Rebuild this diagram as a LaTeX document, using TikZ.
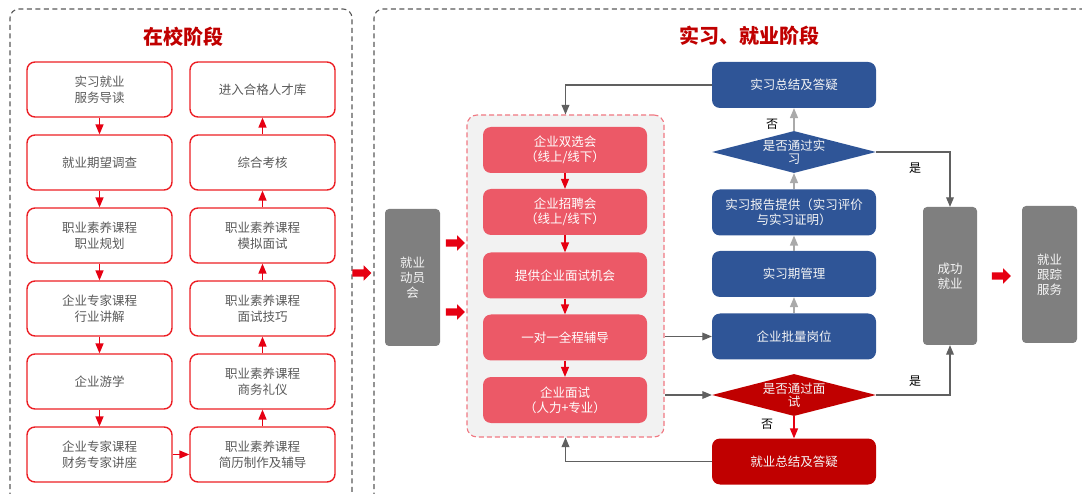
\documentclass[tikz,border=0pt]{standalone}
\usepackage{fontspec}
\newfontfamily\cjk{Noto Sans CJK SC}
\usepackage{tikz}
\usetikzlibrary{shapes,arrows}
\definecolor{boxred}{RGB}{236,30,36}
\definecolor{arrred}{RGB}{230,0,18}
\definecolor{titlered}{RGB}{192,0,0}
\definecolor{txtgray}{RGB}{89,89,89}
\definecolor{pinkbox}{RGB}{236,89,103}
\definecolor{dashpink}{RGB}{240,120,130}
\definecolor{poolgray}{RGB}{242,242,242}
\definecolor{bluebox}{RGB}{47,85,151}
\definecolor{darkred}{RGB}{192,0,0}
\definecolor{boxgray}{RGB}{127,127,127}
\definecolor{linegray}{RGB}{96,96,96}
\definecolor{lightgray}{RGB}{170,170,170}
\definecolor{panelgray}{RGB}{89,89,89}

\begin{document}
\begin{tikzpicture}[x=1pt,y=-1pt,
  every node/.style={font=\cjk\fontsize{12.5}{16}\selectfont, align=center},
  panel/.style={draw=panelgray, line width=1.1pt, dash pattern=on 5pt off 3.5pt, rounded corners=9pt},
  headline/.style={font=\cjk\bfseries\fontsize{20}{24}\selectfont, text=titlered},
  schoolbox/.style={draw=boxred, line width=1.4pt, rounded corners=8pt, minimum width=145pt, minimum height=55pt, text=txtgray},
  pinkstep/.style={fill=pinkbox, rounded corners=8pt, minimum width=164pt, minimum height=46pt, text=white, font=\cjk\fontsize{12.5}{15}\selectfont},
  bluestep/.style={fill=bluebox, rounded corners=8pt, minimum width=164pt, minimum height=46pt, text=white!92!gray, font=\cjk\fontsize{12.5}{15}\selectfont},
  redstep/.style={bluestep, fill=darkred},
  graybox/.style={fill=boxgray, rounded corners=4pt, minimum width=55pt, minimum height=137pt, text=white!93!gray, font=\cjk\fontsize{12.5}{15}\selectfont},
  decide/.style={diamond, fill=bluebox, minimum width=164pt, minimum height=42pt, inner sep=0pt},
  decidetext/.style={text=white!92!gray, font=\cjk\fontsize{12.5}{13}\selectfont},
  fatarrow/.style={single arrow, fill=arrred, inner sep=0pt, text height=7pt, text depth=0pt, text width=0pt, minimum height=19pt, single arrow head extend=4pt, single arrow head indent=0pt},
  redarr/.style={-triangle 45, draw=arrred, line width=1.3pt},
  grayarr/.style={-triangle 45, draw=linegray, line width=1.2pt},
  lightarr/.style={-triangle 45, draw=lightgray, line width=1.3pt},
  yesno/.style={font=\cjk\fontsize{12}{14}\selectfont, text=black}]
\useasboundingbox (0,0) rectangle (1082,494);
\draw[panel] (10,540) -- (10,9) -- (352,9) -- (352,540);
\draw[panel] (374,540) -- (374,9) -- (1100,9);
\node[headline] (t1) at (183,37) {在校阶段};
\node[headline] (t2) at (749,36) {实习、就业阶段};

\node[schoolbox] (guide) at (99.5,89.5) {实习就业\\服务导读};
\node[schoolbox] (survey) at (99.5,162.5) {就业期望调查};
\node[schoolbox] (plan) at (99.5,235.5) {职业素养课程\\职业规划};
\node[schoolbox] (industry) at (99.5,308.5) {企业专家课程\\行业讲解};
\node[schoolbox] (tour) at (99.5,381.5) {企业游学};
\node[schoolbox] (finance) at (99.5,454.5) {企业专家课程\\财务专家讲座};
\node[schoolbox] (resume) at (262.5,454.5) {职业素养课程\\简历制作及辅导};
\node[schoolbox] (etiquette) at (262.5,381.5) {职业素养课程\\商务礼仪};
\node[schoolbox] (skills) at (262.5,308.5) {职业素养课程\\面试技巧};
\node[schoolbox] (mock) at (262.5,235.5) {职业素养课程\\模拟面试};
\node[schoolbox] (exam) at (262.5,162.5) {综合考核};
\node[schoolbox] (talent) at (262.5,89.5) {进入合格人才库};
\draw[redarr] (guide) -- (survey);
\draw[redarr] (survey) -- (plan);
\draw[redarr] (plan) -- (industry);
\draw[redarr] (industry) -- (tour);
\draw[redarr] (tour) -- (finance);
\draw[redarr] (finance) -- (resume);
\draw[redarr] (resume) -- (etiquette);
\draw[redarr] (etiquette) -- (skills);
\draw[redarr] (skills) -- (mock);
\draw[redarr] (mock) -- (exam);
\draw[redarr] (exam) -- (talent);

\node[fatarrow] (go) at (360,273) {};
\node[graybox] (mobilize) at (412.5,277.5) {就业\\动员\\会};
\node[fatarrow] (in1) at (453.5,243) {};
\node[fatarrow] (in2) at (453.5,312) {};

\node[draw=dashpink, line width=1.1pt, dash pattern=on 5pt off 3pt, fill=poolgray, rounded corners=10pt, minimum width=197pt, minimum height=322pt] (hire) at (565.5,276) {};
\node[pinkstep] (fair) at (565,150) {企业双选会\\（线上/线下）};
\node[pinkstep] (recruit) at (565,212) {企业招聘会\\（线上/线下）};
\node[pinkstep] (chance) at (565,275.5) {提供企业面试机会};
\node[pinkstep] (coach) at (565,337.5) {一对一全程辅导};
\node[pinkstep] (interview) at (565,400) {企业面试\\（人力+专业）};
\draw[redarr] (fair) -- (recruit);
\draw[redarr] (recruit) -- (chance);
\draw[redarr] (chance) -- (coach);
\draw[redarr] (coach) -- (interview);

\node[bluestep] (isum) at (794,85) {实习总结及答疑};
\node[decide] (pass1) at (794,152) {};
\node[decidetext] (pass1t) at (pass1) {是否通过实\\习};
\node[bluestep] (report) at (794,212.5) {实习报告提供（实习评价\\与实习证明）};
\node[bluestep] (manage) at (794,274) {实习期管理};
\node[bluestep] (batch) at (794,336.5) {企业批量岗位};
\node[decide, fill=darkred] (pass2) at (794,395) {};
\node[decidetext] (pass2t) at (pass2) {是否通过面\\试};
\node[redstep] (jsum) at (794,461.5) {就业总结及答疑};
\draw[lightarr] (batch) -- (manage);
\draw[lightarr] (manage) -- (report);
\draw[lightarr] (report) -- (pass1);
\draw[lightarr] (pass1) -- (isum);
\draw[redarr] (pass2) -- (jsum);
\draw[grayarr] (isum.west) -| (hire.north);
\draw[grayarr] (jsum.west) -| (hire.south);
\draw[grayarr] (hire.east |- batch) -- (batch.west);
\draw[grayarr] (hire.east |- pass2) -- (pass2.west);

\node[graybox, minimum height=138pt, minimum width=54pt] (success) at (950,276) {成功\\就业};
\node[fatarrow] (out) at (999.5,276) {};
\node[graybox] (track) at (1049.5,274.5) {就业\\跟踪\\服务};
\draw[grayarr] (pass1.east) -| (success.north);
\draw[grayarr] (pass2.east) -| (success.south);

\node[yesno] (no1) at (772,124) {否};
\node[yesno] (yes1) at (915,168) {是};
\node[yesno] (yes2) at (915,381) {是};
\node[yesno] (no2) at (767,424) {否};
\end{tikzpicture}
\end{document}
